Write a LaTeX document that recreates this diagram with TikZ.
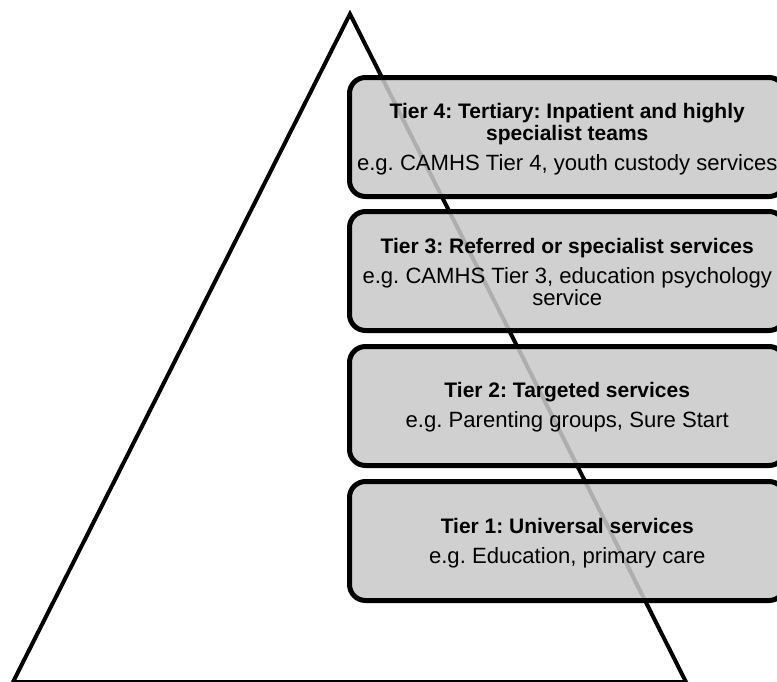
\documentclass[tikz,border=0pt]{standalone}
\usepackage{fontspec}
\setmainfont{Liberation Sans}
\frenchspacing
\begin{document}
\begin{tikzpicture}[x=1pt,y=-1pt,
  tierbox/.style={draw=black, line width=5pt, rounded corners=16pt,
    fill=black!21, fill opacity=0.865, draw opacity=1,
    minimum width=435.5pt, minimum height=119pt, inner sep=0pt},
  headline/.style={anchor=base, inner sep=0pt, font=\bfseries\fontsize{21}{22}\selectfont},
  example/.style={anchor=base, inner sep=0pt, font=\fontsize{22.1}{23}\selectfont},
  outline/.style={draw=black, line width=4pt, line join=miter}]

\useasboundingbox (0,0) rectangle (777,681);
\clip (0,0) rectangle (777,681);

% the pyramid
\coordinate (apex) at (350,14);
\coordinate (baseL) at (13,682);
\coordinate (baseR) at (686,682);
\draw[outline] (apex) -- (baseR) -- (baseL) -- cycle;

% the four tiers
\node[tierbox] (tier4) at (567.25,137) {};
\node[tierbox] (tier3) at (567.25,271) {};
\node[tierbox] (tier2) at (567.25,406) {};
\node[tierbox] (tier1) at (567.25,541) {};

% Tier 4
\node[headline] (t4a) at (567.25,118.3) {Tier 4: Tertiary: Inpatient and highly};
\node[headline] (t4b) at (567.25,140.3) {specialist teams};
\node[example]  (t4c) at (567.25,170) {e.g. CAMHS Tier 4, youth custody services};

% Tier 3
\node[headline] (t3a) at (567.25,253) {Tier 3: Referred or specialist services};
\node[example]  (t3b) at (567.25,283) {e.g. CAMHS Tier 3, education psychology};
\node[example]  (t3c) at (567.25,305.5) {service};

% Tier 2
\node[headline] (t2a) at (567.25,397.5) {Tier 2: Targeted services};
\node[example]  (t2b) at (567.25,427) {e.g. Parenting groups, Sure Start};

% Tier 1
\node[headline] (t1a) at (567.25,533.5) {Tier 1: Universal services};
\node[example]  (t1b) at (567.25,563) {e.g. Education, primary care};
\end{tikzpicture}
\end{document}
